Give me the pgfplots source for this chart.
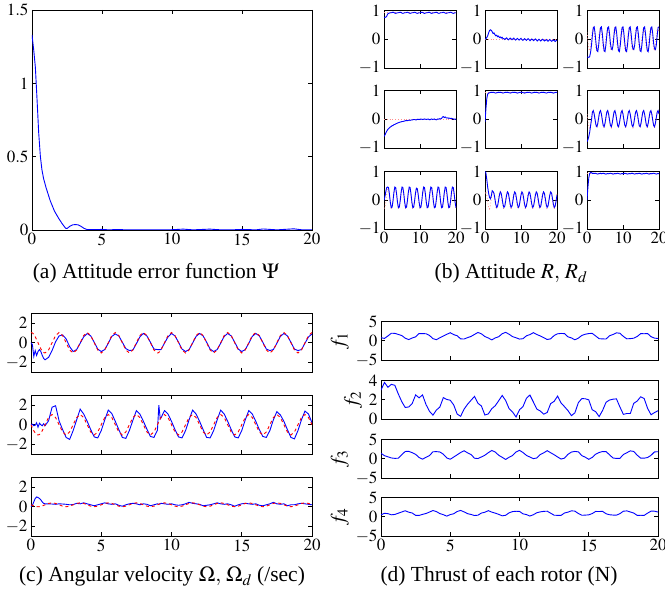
\documentclass[border=0pt]{standalone}
\usepackage{mathptmx}
\usepackage[no-math]{fontspec}
\setmainfont{Liberation Serif}
\usepackage{pgfplots}
\usepackage{pgfplotstable}
\pgfplotsset{compat=1.18}

\newcommand\tf{\fontsize{17}{17}\selectfont}
\newcommand\cf{\fontsize{21.5}{23}\selectfont}
\newcommand\lf{\fontsize{20.5}{22}\selectfont}

\pgfplotsset{
  mat/.style={scale only axis, anchor=south west, xmin=0, xmax=20,
    axis line style={line width=0.8pt}, tick align=inside, major tick length=4pt,
    every tick/.style={black, line width=0.6pt},
    tick label style={font=\tf}},
  bl/.style={blue, line width=0.9pt},
  rd/.style={red, dashed, line width=0.9pt},
  rdot/.style={red!45, dotted, line width=0.8pt},
}

% attitude R (blue) and R_d (red), columns a.. and d..
\pgfplotstableread{
t a11 a12 a13 a21 a22 a23 a31 a32 a33 d13 d23 d31 d32
0    0.76 0.00 -0.62 -0.60 -0.10 -0.78 0.00 1.00 0.00 0.24 0.18 -0.28 0.24
0.25 0.76 0.02 -0.62 -0.55 0.35 -0.72 0.12 0.95 0.45 -0.06 -0.05 -0.26 0.30
0.5  0.77 0.06 -0.63 -0.48 0.72 -0.60 0.30 0.72 0.78 -0.32 -0.24 -0.06 0.18
0.75 0.80 0.12 -0.60 -0.42 0.88 -0.45 0.44 0.45 0.93 -0.40 -0.30 0.21 -0.05
1    0.87 0.22 -0.45 -0.36 0.91 -0.22 0.46 0.25 0.97 -0.24 -0.18 0.38 -0.24
1.25 0.90 0.30 -0.20 -0.33 0.92 -0.02 0.44 0.10 0.96 0.06 0.05 0.36 -0.30
1.5  0.91 0.33 0.14 -0.30 0.93 0.25 0.22 0.05 0.93 0.32 0.24 0.16 -0.18
1.75 0.92 0.31 0.40 -0.27 0.94 0.30 -0.07 0.15 0.94 0.40 0.30 -0.11 0.05
2    0.92 0.26 0.43 -0.25 0.93 0.18 -0.26 0.33 0.93 0.24 0.18 -0.28 0.24
2.25 0.93 0.20 0.20 -0.22 0.94 -0.02 -0.24 0.30 0.94 -0.06 -0.05 -0.26 0.30
2.5  0.94 0.22 -0.14 -0.22 0.93 -0.21 -0.02 0.24 0.93 -0.32 -0.24 -0.06 0.18
2.75 0.93 0.16 -0.40 -0.19 0.92 -0.26 0.27 0.06 0.92 -0.40 -0.30 0.21 -0.05
3    0.91 0.12 -0.43 -0.18 0.91 -0.14 0.46 -0.14 0.91 -0.24 -0.18 0.38 -0.24
3.25 0.90 0.14 -0.20 -0.16 0.92 0.06 0.44 -0.25 0.92 0.06 0.05 0.36 -0.30
3.5  0.91 0.09 0.14 -0.15 0.93 0.25 0.22 -0.20 0.93 0.32 0.24 0.16 -0.18
3.75 0.92 0.11 0.40 -0.13 0.94 0.30 -0.07 -0.02 0.94 0.40 0.30 -0.11 0.05
4    0.92 0.06 0.43 -0.12 0.93 0.18 -0.26 0.18 0.92 0.24 0.18 -0.28 0.24
4.25 0.93 0.08 0.20 -0.11 0.94 -0.02 -0.24 0.29 0.93 -0.06 -0.05 -0.26 0.30
4.5  0.94 0.04 -0.14 -0.10 0.93 -0.21 -0.02 0.24 0.94 -0.32 -0.24 -0.06 0.18
4.75 0.93 0.07 -0.40 -0.09 0.92 -0.26 0.27 0.06 0.93 -0.40 -0.30 0.21 -0.05
5    0.91 0.02 -0.43 -0.08 0.91 -0.14 0.46 -0.14 0.92 -0.24 -0.18 0.38 -0.24
5.25 0.90 0.02 -0.20 -0.08 0.92 0.06 0.44 -0.25 0.91 0.06 0.05 0.36 -0.30
5.5  0.91 -0.01 0.14 -0.07 0.93 0.25 0.22 -0.20 0.92 0.32 0.24 0.16 -0.18
5.75 0.92 0.02 0.40 -0.06 0.94 0.30 -0.07 -0.02 0.93 0.40 0.30 -0.11 0.05
6    0.92 0.05 0.43 -0.05 0.93 0.18 -0.26 0.18 0.92 0.24 0.18 -0.28 0.24
6.25 0.93 0.01 0.20 -0.05 0.94 -0.02 -0.24 0.29 0.93 -0.06 -0.05 -0.26 0.30
6.5  0.94 -0.02 -0.14 -0.05 0.93 -0.21 -0.02 0.24 0.94 -0.32 -0.24 -0.06 0.18
6.75 0.93 0.01 -0.33 -0.04 0.92 -0.26 0.27 0.06 0.93 -0.40 -0.30 0.21 -0.05
7    0.91 0.04 -0.36 -0.03 0.91 -0.14 0.46 -0.14 0.92 -0.24 -0.18 0.38 -0.24
7.25 0.90 0.01 -0.20 -0.04 0.92 0.06 0.44 -0.25 0.91 0.06 0.05 0.36 -0.30
7.5  0.91 -0.02 0.14 -0.03 0.93 0.25 0.22 -0.20 0.92 0.32 0.24 0.16 -0.18
7.75 0.92 0.01 0.40 -0.02 0.94 0.30 -0.07 -0.02 0.93 0.40 0.30 -0.11 0.05
8    0.92 0.04 0.43 -0.02 0.93 0.18 -0.26 0.18 0.92 0.24 0.18 -0.28 0.24
8.25 0.93 0.00 0.20 -0.01 0.94 -0.02 -0.24 0.29 0.93 -0.06 -0.05 -0.26 0.30
8.5  0.94 -0.03 -0.14 -0.01 0.93 -0.21 -0.02 0.24 0.94 -0.32 -0.24 -0.06 0.18
8.75 0.93 0.00 -0.40 -0.02 0.92 -0.26 0.25 0.06 0.93 -0.40 -0.30 0.21 -0.05
9    0.91 0.03 -0.43 -0.02 0.91 -0.14 0.42 -0.14 0.92 -0.24 -0.18 0.38 -0.24
9.25 0.90 0.00 -0.20 0.00 0.92 0.06 0.40 -0.25 0.91 0.06 0.05 0.36 -0.30
9.5  0.91 -0.03 0.14 -0.01 0.93 0.25 0.20 -0.20 0.92 0.32 0.24 0.16 -0.18
9.75 0.92 0.00 0.40 0.00 0.94 0.30 -0.07 -0.02 0.93 0.40 0.30 -0.11 0.05
10   0.92 0.03 0.43 -0.01 0.93 0.18 -0.26 0.18 0.92 0.24 0.18 -0.28 0.24
10.25 0.93 -0.01 0.20 0.01 0.94 -0.02 -0.24 0.29 0.93 -0.06 -0.05 -0.26 0.30
10.5 0.94 -0.04 -0.14 0.00 0.93 -0.21 -0.02 0.24 0.94 -0.32 -0.24 -0.06 0.18
10.75 0.93 -0.01 -0.40 -0.01 0.92 -0.26 0.27 0.06 0.93 -0.40 -0.30 0.21 -0.05
11   0.91 0.02 -0.43 0.00 0.91 -0.14 0.46 -0.14 0.92 -0.24 -0.18 0.38 -0.24
11.25 0.90 -0.01 -0.20 0.01 0.92 0.06 0.44 -0.25 0.91 0.06 0.05 0.36 -0.30
11.5 0.91 -0.04 0.14 0.00 0.93 0.25 0.22 -0.20 0.92 0.32 0.24 0.16 -0.18
11.75 0.92 -0.01 0.40 -0.01 0.94 0.30 -0.07 -0.02 0.93 0.40 0.30 -0.11 0.05
12   0.92 0.02 0.43 0.00 0.93 0.18 -0.26 0.18 0.92 0.24 0.18 -0.28 0.24
12.25 0.93 -0.01 0.20 0.01 0.94 -0.02 -0.24 0.29 0.93 -0.06 -0.05 -0.26 0.30
12.5 0.94 -0.05 -0.14 -0.01 0.93 -0.21 -0.02 0.24 0.94 -0.32 -0.24 -0.06 0.18
12.75 0.93 -0.02 -0.33 -0.02 0.92 -0.26 0.27 0.06 0.93 -0.40 -0.30 0.21 -0.05
13   0.91 0.01 -0.36 0.00 0.91 -0.14 0.46 -0.14 0.92 -0.24 -0.18 0.38 -0.24
13.25 0.90 -0.02 -0.20 0.01 0.92 0.06 0.44 -0.25 0.91 0.06 0.05 0.36 -0.30
13.5 0.91 -0.05 0.14 -0.01 0.93 0.25 0.22 -0.20 0.92 0.32 0.24 0.16 -0.18
13.75 0.92 -0.02 0.40 0.00 0.94 0.30 -0.07 -0.02 0.93 0.40 0.30 -0.11 0.05
14   0.92 0.01 0.43 0.01 0.93 0.18 -0.26 0.18 0.92 0.24 0.18 -0.28 0.24
14.25 0.93 -0.02 0.20 -0.01 0.94 -0.02 -0.24 0.29 0.93 -0.06 -0.05 -0.26 0.30
14.5 0.94 -0.06 -0.14 -0.02 0.93 -0.21 -0.02 0.24 0.94 -0.32 -0.24 -0.06 0.18
14.75 0.93 -0.03 -0.40 0.00 0.92 -0.26 0.27 0.06 0.93 -0.40 -0.30 0.21 -0.05
15   0.91 0.00 -0.43 0.01 0.91 -0.14 0.46 -0.14 0.92 -0.24 -0.18 0.38 -0.24
15.25 0.90 -0.03 -0.20 0.00 0.92 0.06 0.44 -0.25 0.91 0.06 0.05 0.36 -0.30
15.5 0.91 -0.06 0.14 0.02 0.93 0.25 0.22 -0.20 0.92 0.32 0.24 0.16 -0.18
15.75 0.92 -0.03 0.40 0.01 0.94 0.30 -0.07 -0.02 0.93 0.40 0.30 -0.11 0.05
16   0.92 0.00 0.43 0.03 0.93 0.18 -0.26 0.18 0.92 0.24 0.18 -0.28 0.24
16.25 0.93 -0.03 0.20 0.08 0.94 -0.02 -0.24 0.29 0.93 -0.06 -0.05 -0.26 0.30
16.5 0.94 -0.06 -0.14 0.09 0.93 -0.21 -0.02 0.24 0.94 -0.32 -0.24 -0.06 0.18
16.75 0.93 -0.04 -0.40 0.06 0.92 -0.26 0.27 0.06 0.93 -0.40 -0.30 0.21 -0.05
17   0.91 -0.01 -0.43 0.08 0.91 -0.14 0.46 -0.14 0.92 -0.24 -0.18 0.38 -0.24
17.25 0.90 -0.04 -0.20 0.05 0.92 0.06 0.44 -0.25 0.91 0.06 0.05 0.36 -0.30
17.5 0.91 -0.07 0.14 0.04 0.93 0.25 0.22 -0.20 0.92 0.32 0.24 0.16 -0.18
17.75 0.92 -0.04 0.40 0.05 0.94 0.30 -0.07 -0.02 0.93 0.40 0.30 -0.11 0.05
18   0.92 -0.01 0.43 0.03 0.93 0.18 -0.26 0.18 0.92 0.24 0.18 -0.28 0.24
18.25 0.93 -0.04 0.20 0.04 0.94 -0.02 -0.24 0.29 0.93 -0.06 -0.05 -0.26 0.30
18.5 0.94 -0.07 -0.14 0.02 0.93 -0.21 -0.02 0.24 0.94 -0.32 -0.24 -0.06 0.18
18.75 0.93 -0.05 -0.33 0.03 0.92 -0.26 0.27 0.06 0.93 -0.40 -0.30 0.21 -0.05
19   0.91 -0.02 -0.36 0.02 0.91 -0.14 0.46 -0.14 0.92 -0.24 -0.18 0.38 -0.24
19.25 0.90 -0.05 -0.20 0.01 0.92 0.06 0.44 -0.25 0.91 0.06 0.05 0.36 -0.30
19.5 0.91 -0.08 0.14 0.00 0.93 0.25 0.22 -0.20 0.92 0.32 0.24 0.16 -0.18
19.75 0.92 -0.05 0.40 0.01 0.94 0.30 -0.07 -0.02 0.93 0.40 0.30 -0.11 0.05
20   0.92 -0.03 0.43 -0.01 0.93 0.18 -0.26 0.18 0.92 0.24 0.18 -0.28 0.24
}\tabR

% angular velocity: w (blue), r (red desired)
\pgfplotstableread{
t w1 w2 w3 r1 r2 r3
0    0.0  0.0  0.0  1.05 0 0.2
0.1  -0.2 0.05 0.15 1.0 -0.32 0.14
0.2  -1.4 -0.1 0.5  0.85 -0.62 0.08
0.3  -0.8 -0.05 0.85 0.62 -0.85 0.04
0.4  -1.3 0.2  1.0  0.32 -1.0 0.01
0.5  -0.9 -0.25 0.95 0 -1.05 0
0.6  -0.7 0.15 0.85 -0.32 -1.0 0.01
0.7  -0.9 0.0  0.7  -0.62 -0.85 0.04
0.8  -1.3 -0.1 0.5  -0.85 -0.62 0.08
0.9  -1.6 0.1  0.35 -1.0 -0.32 0.14
1.0  -1.75 -0.1 0.3 -1.05 0 0.2
1.25 -1.5 0.4  0.3  -0.74 0.74 0.34
1.5  -0.8 1.8  0.28 0 1.05 0.4
1.75 0.1  1.95 0.25 0.74 0.74 0.34
2.0  0.7  0.4  0.3  1.05 0 0.2
2.25 0.8  -0.5 0.28 0.74 -0.74 0.06
2.5  0.4  -1.3 0.25 0 -1.05 0
2.75 -0.4 -1.5 0.2  -0.74 -0.74 0.06
3.0  -0.9 -0.6 0.22 -1.05 0 0.2
3.25 -0.7 0.5  0.35 -0.74 0.74 0.34
3.5  -0.05 1.6 0.3  0 1.05 0.4
3.75 0.6  1.1  0.4  0.74 0.74 0.34
4.0  0.95 0.35 0.3  1.05 0 0.2
4.25 0.7  -0.5 0.2  0.74 -0.74 0.06
4.5  0.05 -1.25 0.1 0 -1.05 0
4.75 -0.65 -1.35 0.2 -0.74 -0.74 0.06
5.0  -0.9 -0.6 0.3  -1.05 0 0.2
5.25 -0.7 0.5  0.4  -0.74 0.74 0.34
5.5  -0.05 1.5 0.3  0 1.05 0.4
5.75 0.65 1.15 0.25 0.74 0.74 0.34
6.0  0.9  0.35 0.3  1.05 0 0.2
6.25 0.7  -0.5 0.15 0.74 -0.74 0.06
6.5  0.05 -1.3 0.05 0 -1.05 0
6.75 -0.6 -1.4 0.2  -0.74 -0.74 0.06
7.0  -0.8 -0.6 0.3  -1.05 0 0.2
7.25 -0.75 0.45 0.35 -0.74 0.74 0.34
7.5  -0.1 1.45 0.3  0 1.05 0.4
7.75 0.6  1.1  0.2  0.74 0.74 0.34
8.0  0.95 0.35 0.3  1.05 0 0.2
8.25 0.7  -0.45 0.25 0.74 -0.74 0.06
8.5  0.05 -1.2 0.1  0 -1.05 0
8.75 -0.65 -1.3 0.2 -0.74 -0.74 0.06
9.0  -0.7 -0.55 0.3 -1.05 0 0.2
9.1  -0.7 2.0  0.25 -1.0 0.32 0.26
9.2  -0.7 0.6  0.3  -0.85 0.62 0.32
9.25 -0.7 0.7  0.35 -0.74 0.74 0.34
9.5  -0.05 1.45 0.3 0 1.05 0.4
9.75 0.6  1.1  0.25 0.74 0.74 0.34
10.0 0.95 0.35 0.3  1.05 0 0.2
10.25 0.7 -0.5 0.2  0.74 -0.74 0.06
10.5 0.05 -1.25 0.15 0 -1.05 0
10.75 -0.65 -1.35 0.2 -0.74 -0.74 0.06
11.0 -0.9 -0.6 0.3  -1.05 0 0.2
11.25 -0.7 0.5 0.45 -0.74 0.74 0.34
11.5 -0.05 1.5 0.35 0 1.05 0.4
11.75 0.65 1.1 0.3  0.74 0.74 0.34
12.0 0.95 0.35 0.25 1.05 0 0.2
12.25 0.7 -0.5 0.1  0.74 -0.74 0.06
12.5 0.05 -1.3 0.15 0 -1.05 0
12.75 -0.65 -1.35 0.2 -0.74 -0.74 0.06
13.0 -0.9 -0.6 0.3  -1.05 0 0.2
13.25 -0.7 0.5 0.4  -0.74 0.74 0.34
13.5 -0.05 1.5 0.3  0 1.05 0.4
13.75 0.65 1.1 0.25 0.74 0.74 0.34
14.0 0.95 0.35 0.3  1.05 0 0.2
14.25 0.7 -0.5 0.2  0.74 -0.74 0.06
14.5 0.05 -1.25 0.05 0 -1.05 0
14.75 -0.65 -1.35 0.2 -0.74 -0.74 0.06
15.0 -0.9 -0.6 0.3  -1.05 0 0.2
15.25 -0.7 0.5 0.35 -0.74 0.74 0.34
15.5 -0.05 1.45 0.3 0 1.05 0.4
15.75 0.65 1.1 0.25 0.74 0.74 0.34
16.0 0.95 0.35 0.3  1.05 0 0.2
16.25 0.7 -0.5 0.15 0.74 -0.74 0.06
16.5 0.05 -1.2 0.1  0 -1.05 0
16.75 -0.65 -1.3 0.2 -0.74 -0.74 0.06
17.0 -0.8 -0.6 0.3  -1.05 0 0.2
17.25 -0.7 0.5 0.45 -0.74 0.74 0.34
17.5 -0.05 1.35 0.3 0 1.05 0.4
17.75 0.65 1.0 0.25 0.74 0.74 0.34
18.0 0.95 0.35 0.3  1.05 0 0.2
18.25 0.7 -0.5 0.1  0.74 -0.74 0.06
18.5 0.05 -1.3 0.2  0 -1.05 0
18.75 -0.65 -1.45 0.2 -0.74 -0.74 0.06
19.0 -0.8 -0.6 0.3  -1.05 0 0.2
19.25 -0.7 0.5 0.35 -0.74 0.74 0.34
19.5 -0.05 1.4 0.3  0 1.05 0.4
19.75 0.6 1.1 0.25  0.74 0.74 0.34
20.0 0.9  0.2  0.2  1.05 0 0.2
}\tabW

% rotor thrusts
\pgfplotstableread{
t f1 f2 f3 f4
0 0.80 3.00 1.40 0.50
0.25 0.60 3.80 0.80 0.90
0.5 1.25 3.30 0.50 0.80
0.75 1.95 3.60 0.20 0.50
1 1.92 3.50 0.10 0.60
1.25 1.64 2.60 0.14 0.92
1.5 1.35 1.80 1.05 1.24
1.75 0.66 1.20 1.89 1.56
2 0.30 1.25 1.92 1.18
2.25 0.71 1.60 1.58 0.98
2.5 1.02 2.50 1.15 0.36
2.75 1.87 2.20 0.32 0.34
3 1.85 2.50 -0.10 0.62
3.25 1.82 1.50 0.37 0.84
3.5 1.38 0.80 0.82 1.22
3.75 0.55 0.40 1.81 1.62
4 0.27 0.93 1.85 1.34
4.25 0.78 1.24 1.76 0.82
4.5 1.23 2.22 1.18 0.54
4.75 1.67 2.03 0.21 0.16
5 2.08 1.95 -0.13 0.56
5.25 1.59 1.46 0.44 0.78
5.5 1.30 0.51 1.03 1.36
5.75 0.48 0.28 1.61 1.64
6 0.45 1.03 2.08 1.26
6.25 0.81 1.53 1.53 0.80
6.5 1.12 1.94 1.10 0.60
6.75 1.64 2.35 0.14 0.32
7 2.15 1.63 0.05 0.40
7.25 1.80 1.35 0.47 0.96
7.5 1.10 0.41 0.92 1.18
7.75 0.71 0.53 1.58 1.58
8 0.22 1.07 2.15 1.20
8.25 0.73 1.38 1.74 0.94
8.5 1.05 1.90 0.90 0.62
8.75 1.82 2.45 0.37 0.24
9 2.18 1.92 -0.18 0.38
9.25 1.69 1.07 0.39 1.02
9.5 1.07 0.73 0.85 1.34
9.75 0.78 0.21 1.76 1.42
10 0.43 0.96 2.18 1.38
10.25 0.53 1.28 1.63 0.76
10.5 1.28 2.15 0.87 0.56
10.75 1.59 2.49 0.44 0.18
11 2.10 1.77 0.03 0.52
11.25 1.62 1.03 0.19 1.04
11.5 1.25 0.83 1.08 1.26
11.75 0.81 0.50 1.53 1.40
12 0.32 0.68 2.10 1.44
12.25 0.50 1.60 1.56 0.92
12.5 1.35 1.83 1.05 0.40
12.75 1.80 2.38 0.47 0.36
13 1.90 1.67 -0.08 0.34
13.25 1.85 1.28 0.16 0.98
13.5 1.02 0.87 1.15 1.20
13.75 0.73 0.35 1.74 1.54
14 0.25 0.64 1.90 1.46
14.25 0.68 1.70 1.79 0.84
14.5 1.38 2.12 0.82 0.38
14.75 1.69 2.10 0.39 0.42
15 1.87 1.99 -0.15 0.50
15.25 1.92 0.96 0.34 0.82
15.5 1.23 0.76 1.18 1.38
15.75 0.53 0.25 1.63 1.36
16 0.48 0.89 1.87 1.40
16.25 0.45 1.74 1.86 0.78
16.5 1.30 1.97 1.03 0.52
16.75 1.62 2.06 0.19 0.44
17 2.05 2.09 0.08 0.42
17.25 1.95 1.25 0.11 0.80
17.5 1.12 0.48 1.10 1.44
17.75 0.50 0.57 1.56 1.52
18 0.55 0.57 2.05 1.24
18.25 0.66 1.63 1.89 0.96
18.5 1.10 1.87 0.92 0.34
18.75 1.85 2.31 0.16 0.38
19 1.82 2.13 0.15 0.36
19.25 1.87 1.10 0.32 0.94
19.5 1.05 0.44 0.90 1.46
19.75 0.68 0.67 1.79 1.44
20 0.58 0.86 1.82 1.22
}\tabF

\begin{document}
\begin{tikzpicture}
\path[use as bounding box] (0,0) rectangle (665pt,594pt);

% (a) attitude error function
\begin{axis}[mat, at={(32pt,364pt)}, width=280pt, height=220pt,
  ymin=0, ymax=1.5, xtick={0,5,...,20}, ytick={0,0.5,1,1.5}]
\addplot[bl] coordinates {(0,1.33) (0.12,1.23) (0.24,1.11) (0.36,0.89) (0.48,0.66)
 (0.6,0.5) (0.71,0.41) (0.83,0.35) (1.0,0.29) (1.3,0.2) (1.6,0.13) (1.9,0.08)
 (2.14,0.045) (2.4,0.012) (2.5,0.01) (2.7,0.025) (2.9,0.035) (3.1,0.037) (3.3,0.035)
 (3.5,0.025) (3.7,0.012) (3.9,0.004) (4.2,0.002) (5,0.004) (5.5,0.001) (6,0.003)
 (7,0.001) (8,0.002) (9,0.001) (10,0.002) (10.8,0.006) (11.5,0.001) (12.7,0.006)
 (13.5,0.001) (14.5,0.002) (15,0.004) (16,0.001) (16.5,0.007) (17.5,0.001)
 (18.7,0.008) (19.3,0.001) (20,0.002)};
\end{axis}

% (b) attitude, 3x3 (desired drawn first, under the blue)
\begin{axis}[mat, at={(384pt,526pt)}, width=72pt, height=57.5pt, ymin=-1, ymax=1,
  ytick={-1,0,1}, xtick={0,10,20}, xticklabels={}]
\addplot[rdot] coordinates {(0,0.93) (20,0.93)};
\addplot[bl] table[x=t,y=a11]{\tabR};
\end{axis}
\begin{axis}[mat, at={(485pt,526pt)}, width=72pt, height=57.5pt, ymin=-1, ymax=1,
  ytick={-1,0,1}, xtick={0,10,20}, xticklabels={}]
\addplot[rdot] coordinates {(0,0) (20,0)};
\addplot[bl] table[x=t,y=a12]{\tabR};
\end{axis}
\begin{axis}[mat, at={(587pt,526pt)}, width=72pt, height=57.5pt, ymin=-1, ymax=1,
  ytick={-1,0,1}, xtick={0,10,20}, xticklabels={}]
\addplot[rdot] table[x=t,y=d13]{\tabR};
\addplot[bl] table[x=t,y=a13]{\tabR};
\end{axis}

\begin{axis}[mat, at={(384pt,446pt)}, width=72pt, height=57.5pt, ymin=-1, ymax=1,
  ytick={-1,0,1}, xtick={0,10,20}, xticklabels={}]
\addplot[rdot] coordinates {(0,0) (20,0)};
\addplot[bl] table[x=t,y=a21]{\tabR};
\end{axis}
\begin{axis}[mat, at={(485pt,446pt)}, width=72pt, height=57.5pt, ymin=-1, ymax=1,
  ytick={-1,0,1}, xtick={0,10,20}, xticklabels={}]
\addplot[rdot] coordinates {(0,0.94) (20,0.94)};
\addplot[bl] table[x=t,y=a22]{\tabR};
\end{axis}
\begin{axis}[mat, at={(587pt,446pt)}, width=72pt, height=57.5pt, ymin=-1, ymax=1,
  ytick={-1,0,1}, xtick={0,10,20}, xticklabels={}]
\addplot[rdot] table[x=t,y=d23]{\tabR};
\addplot[bl] table[x=t,y=a23]{\tabR};
\end{axis}

\begin{axis}[mat, at={(384pt,365pt)}, width=72pt, height=57.5pt, ymin=-1, ymax=1,
  ytick={-1,0,1}, xtick={0,10,20}]
\addplot[rdot] table[x=t,y=d31]{\tabR};
\addplot[bl] table[x=t,y=a31]{\tabR};
\end{axis}
\begin{axis}[mat, at={(485pt,365pt)}, width=72pt, height=57.5pt, ymin=-1, ymax=1,
  ytick={-1,0,1}, xtick={0,10,20}]
\addplot[rdot] table[x=t,y=d32]{\tabR};
\addplot[bl] table[x=t,y=a32]{\tabR};
\end{axis}
\begin{axis}[mat, at={(587pt,365pt)}, width=72pt, height=57.5pt, ymin=-1, ymax=1,
  ytick={-1,0,1}, xtick={0,10,20}]
\addplot[rdot] coordinates {(0,0.93) (20,0.93)};
\addplot[bl] table[x=t,y=a33]{\tabR};
\end{axis}

% (c) angular velocity
\begin{axis}[mat, at={(31pt,222pt)}, width=281pt, height=58.5pt, ymin=-3, ymax=3,
  ytick={-2,0,2}, xtick={0,5,...,20}, xticklabels={}]
\addplot[bl] table[x=t,y=w1]{\tabW};
\addplot[rd] table[x=t,y=r1]{\tabW};
\end{axis}
\begin{axis}[mat, at={(31pt,140pt)}, width=281pt, height=58.5pt, ymin=-3, ymax=3,
  ytick={-2,0,2}, xtick={0,5,...,20}, xticklabels={}]
\addplot[bl] table[x=t,y=w2]{\tabW};
\addplot[rd] table[x=t,y=r2]{\tabW};
\end{axis}
\begin{axis}[mat, at={(31pt,58pt)}, width=281pt, height=58.5pt, ymin=-3, ymax=3,
  ytick={-2,0,2}, xtick={0,5,...,20}]
\addplot[bl] table[x=t,y=w3]{\tabW};
\addplot[rd] table[x=t,y=r3]{\tabW};
\end{axis}

% (d) thrust
\begin{axis}[mat, at={(381pt,234pt)}, width=277pt, height=38.5pt, ymin=-5, ymax=5,
  ytick={-5,0,5}, xtick={0,5,...,20}, xticklabels={}, ylabel={$f_1$},
  ylabel style={font=\lf}]
\addplot[bl] table[x=t,y=f1]{\tabF};
\end{axis}
\begin{axis}[mat, at={(381pt,175pt)}, width=277pt, height=38.5pt, ymin=0, ymax=4,
  ytick={0,2,4}, xtick={0,5,...,20}, xticklabels={}, ylabel={$f_2$},
  ylabel style={font=\lf}]
\addplot[bl] table[x=t,y=f2]{\tabF};
\end{axis}
\begin{axis}[mat, at={(381pt,116pt)}, width=277pt, height=38.5pt, ymin=-5, ymax=5,
  ytick={-5,0,5}, xtick={0,5,...,20}, xticklabels={}, ylabel={$f_3$},
  ylabel style={font=\lf}]
\addplot[bl] table[x=t,y=f3]{\tabF};
\end{axis}
\begin{axis}[mat, at={(381pt,58pt)}, width=277pt, height=38.5pt, ymin=-5, ymax=5,
  ytick={-5,0,5}, xtick={0,5,...,20}, ylabel={$f_4$},
  ylabel style={font=\lf}]
\addplot[bl] table[x=t,y=f4]{\tabF};
\end{axis}

% captions
\node[anchor=base, font=\cf] at (156pt,315pt) {(a) Attitude error function $\Psi$};
\node[anchor=base, font=\cf] at (511pt,315pt) {(b) Attitude $R,\, R_d$};
\node[anchor=base, font=\cf] at (162pt,12pt) {(c) Angular velocity $\Omega,\, \Omega_d$ (/sec)};
\node[anchor=base, font=\cf] at (499pt,12pt) {(d) Thrust of each rotor (N)};
\end{tikzpicture}
\end{document}
